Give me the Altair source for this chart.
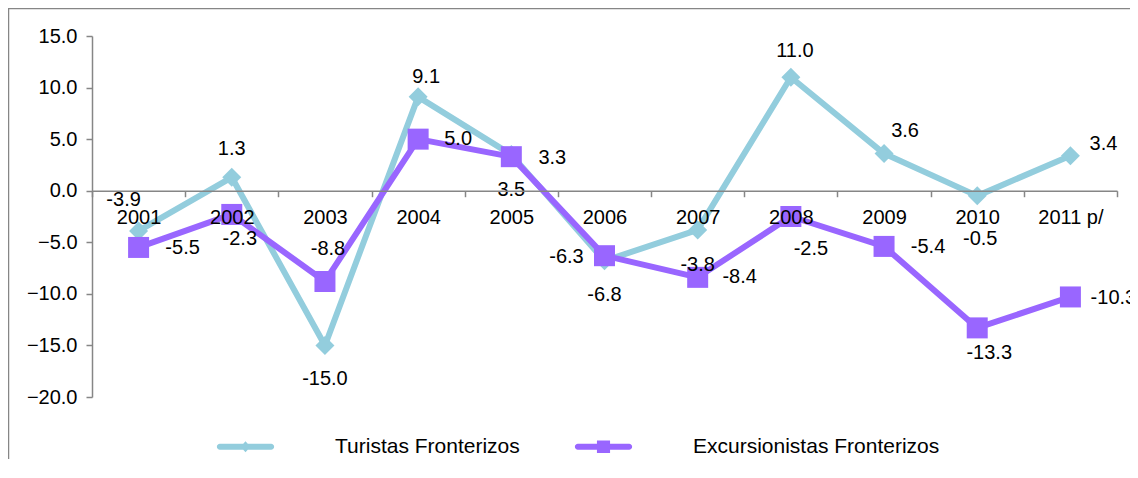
import altair as alt
import pandas as pd

# ---- data ----
years = ["2001", "2002", "2003", "2004", "2005", "2006", "2007", "2008", "2009", "2010", "2011 p/"]
turistas = [-3.9, 1.3, -15.0, 9.1, 3.5, -6.8, -3.8, 11.0, 3.6, -0.5, 3.4]
excursionistas = [-5.5, -2.3, -8.8, 5.0, 3.3, -6.3, -8.4, -2.5, -5.4, -13.3, -10.3]
series = ["Turistas Fronterizos", "Excursionistas Fronterizos"]
y_ticks = [-20, -15, -10, -5, 0, 5, 10, 15]

# ---- label placement (pixel offsets from each point) ----
t_dx = [-15, 0, 0, 8, 0, 0, 0, 4, 21, 3, 33]
t_dy = [-31, -28, 34, -20, 35, 34, 35, -26, -23, 43, -12]
e_dx = [44, 8, 3, 40, 41, -38, 42, 20, 44, 12, 43]
e_dy = [1, 25, -32, 0, 1, 1, 0, 32, 1, 25, 1]

# ---- styles ----
colors = ["#93CDDD", "#9966FF"]
FONT = "Liberation Sans"
AX = "#868686"
W, H = 1025, 361
Y_MIN, Y_MAX = -20, 15
PX_PER_UNIT = H / (Y_MAX - Y_MIN)
HALF_BAND = W / len(years) / 2

rows = []
for s, vals, dxs, dys in [(series[0], turistas, t_dx, t_dy), (series[1], excursionistas, e_dx, e_dy)]:
    for yr, v, dx, dy in zip(years, vals, dxs, dys):
        rows.append({"year": yr, "serie": s, "value": v, "dx": dx, "dy": dy, "label": f"{v:.1f}"})
df = pd.DataFrame(rows)

color_scale = alt.Scale(domain=series, range=colors)
y_scale = alt.Scale(domain=[Y_MIN, Y_MAX], nice=False, zero=False)

x_enc = alt.X(
    "year:N", sort=years,
    scale=alt.Scale(type="band", paddingInner=0, paddingOuter=0),
    axis=alt.Axis(title=None, offset=-H * (0 - Y_MIN) / (Y_MAX - Y_MIN), tickBand="extent",
                  labelAngle=0, labelFontSize=20, labelFont=FONT, labelColor="black",
                  labelPadding=11, tickSize=6, tickColor=AX, domainColor=AX,
                  domainWidth=1.5, tickWidth=1.5, zindex=1),
)
y_axis = alt.Axis(title=None, values=y_ticks, format=".1f", grid=False, labelFontSize=20,
                  labelFont=FONT, labelColor="black", labelPadding=9, tickSize=6,
                  tickColor=AX, domainColor=AX, domainWidth=1.5, tickWidth=1.5)
y_enc = alt.Y("value:Q", scale=y_scale, axis=y_axis)

base = alt.Chart(df)


def series_layers(name, col, shape, size):
    d = base.transform_filter(alt.datum.serie == name)
    line = d.mark_line(strokeWidth=6, strokeJoin="round", color=col).encode(x=x_enc, y=y_enc)
    pts = d.mark_point(shape=shape, filled=True, size=size, opacity=1, color=col).encode(
        x=x_enc, y=y_enc)
    return [line, pts]


labels = base.transform_calculate(
    ly=f"datum.value - datum.dy / {PX_PER_UNIT}",
    lx=f"datum.dx + {HALF_BAND}",
).mark_text(fontSize=20, font=FONT, color="black").encode(
    x=x_enc,
    y=alt.Y("ly:Q", scale=y_scale, axis=y_axis),
    xOffset=alt.XOffset("lx:Q", scale=None),
    text="label:N",
)

# legend symbols: line with marker (custom paths)
cap = "M-0.9,-0.105 H0.9 A0.105,0.105 0 0 1 0.9,0.105 H-0.9 A0.105,0.105 0 0 1 -0.9,-0.105 Z"
path_t = cap + " M0,-0.19 L0.175,0 L0,0.19 L-0.175,0 Z"
path_e = cap + " M-0.23,-0.22 H0.23 V0.22 H-0.23 Z"

leg = alt.Legend(title=None, orient="none", legendX=125, legendY=382, direction="horizontal",
                 symbolSize=3249, symbolStrokeWidth=0, labelFontSize=21, labelFont=FONT,
                 labelColor="black", labelOffset=61, columnPadding=54, padding=0,
                 labelLimit=500)
legend_layer = base.transform_filter("false").mark_point(filled=True, opacity=1).encode(
    color=alt.Color("serie:N", scale=color_scale, legend=leg),
    shape=alt.Shape("serie:N", scale=alt.Scale(domain=series, range=[path_t, path_e]), legend=leg),
)

border_data = alt.Chart(pd.DataFrame({"k": [0]}))
left_border = border_data.mark_rule(color=AX, strokeWidth=1.5).encode(
    x=alt.value(-83.5), y=alt.value(-28), y2=alt.value(440))
top_border = border_data.mark_rule(color=AX, strokeWidth=1.5).encode(
    x=alt.value(-84), x2=alt.value(1040), y=alt.value(-27.5))

chart = alt.layer(
    left_border, top_border,
    *series_layers(series[0], colors[0], "diamond", 361),
    *series_layers(series[1], colors[1], "square", 441),
    labels, legend_layer,
).properties(
    width=W, height=H,
    autosize=alt.AutoSizeParams(type="none"),
    padding={"left": 84, "top": 28, "right": 13, "bottom": 62},
).configure(font=FONT).configure_view(strokeWidth=0, stroke="transparent")

chart.save("out.html", embed_options={"renderer": "svg", "actions": False})
